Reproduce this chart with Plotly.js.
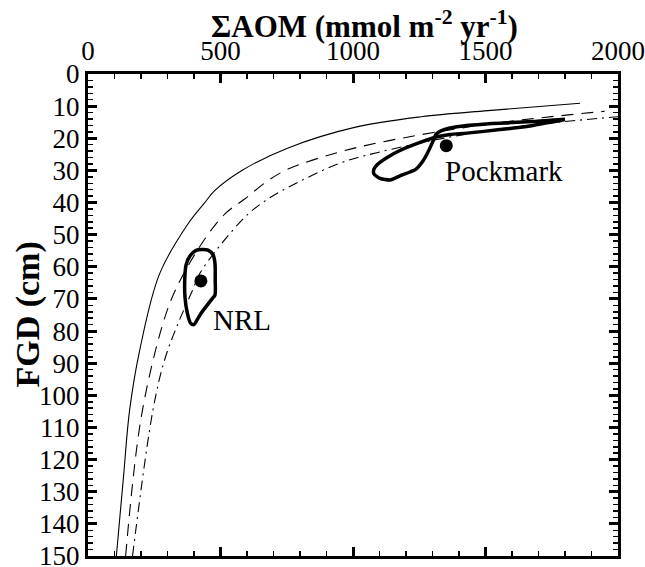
<!DOCTYPE html>
<html>
<head>
<meta charset="utf-8">
<script src="https://cdn.plot.ly/plotly-3.0.1.min.js"></script>
<style>html,body{margin:0;padding:0;background:#fff;}#chart{width:645px;height:567px;}</style>
</head>
<body>
<div id="chart"></div>
<script>
// Curves (ΣAOM vs FGD)
const solidX = [107, 134, 157, 195, 270, 377, 440, 478, 579, 755, 1006, 1258, 1509, 1857];
const solidY = [150, 125.3, 104.6, 86, 62.2, 46.7, 40.1, 36.3, 30.1, 23, 16.6, 13.3, 11.4, 9.1];

const dashX = [142, 201, 283, 333, 428, 516, 591, 679, 755, 943, 1132, 1509, 1950];
const dashY = [150, 106.7, 77.6, 66.7, 52.9, 43.6, 38.9, 33.2, 29.6, 24.4, 20.8, 15.6, 11.6];

const dashDotX = [168, 245, 289, 340, 395, 421, 503, 604, 679, 755, 943, 1094, 1509, 2000];
const dashDotY = [150, 104.6, 89, 77.6, 67.2, 62.2, 52.9, 43.6, 38.9, 35.3, 28, 24.4, 17.6, 13.3];

// Contours
const nrlContourX = [429, 453, 472, 479, 480, 479, 468, 430, 411, 400, 387, 374, 366, 365, 370, 385, 408, 429];
const nrlContourY = [54.6, 54.8, 56.3, 58.8, 64.1, 68.8, 70, 74.1, 76.6, 78, 77.5, 74.1, 69.4, 64.1, 59.4, 56.6, 54.9, 54.6];

const pockContourX = [1800, 1679, 1555, 1491, 1429, 1366, 1332, 1313, 1302, 1283, 1264, 1238, 1215, 1177, 1140, 1102, 1079, 1079, 1094, 1132, 1177, 1253, 1313, 1366, 1430, 1555, 1679, 1800];
const pockContourY = [14.1, 14.8, 15.3, 15.6, 16.0, 16.8, 17.7, 18.8, 20.9, 24.3, 27.1, 29.6, 30.5, 31.7, 33.0, 32.5, 31.1, 29.6, 28.0, 25.8, 23.8, 21.3, 19.6, 18.8, 18.4, 17.3, 16.0, 14.2];

// Site points
const siteNames = ["NRL", "Pockmark"];
const siteX = [426, 1352];
const siteY = [64.4, 22.3];
const labelX = [581, 1570];
const labelY = [76.6, 30.2];

// Axis settings
const xRange = [0, 2000];
const yRange = [150, 0];
const xTitle = "ΣAOM (mmol m<sup>-2</sup> yr<sup>-1</sup>)";
const yTitle = "FGD (cm)";

const FONT = "Liberation Serif, Times New Roman, serif";

const traces = [
  {x: solidX, y: solidY, mode: "lines", line: {color: "#000", width: 1.1, shape: "spline", smoothing: 1}, hoverinfo: "skip"},
  {x: dashX, y: dashY, mode: "lines", line: {color: "#000", width: 1.1, shape: "spline", smoothing: 1, dash: "12px,8px"}, hoverinfo: "skip"},
  {x: dashDotX, y: dashDotY, mode: "lines", line: {color: "#000", width: 1.1, shape: "spline", smoothing: 1, dash: "10px,5px,2px,5px"}, hoverinfo: "skip"},
  {x: nrlContourX, y: nrlContourY, mode: "lines", line: {color: "#000", width: 3.5, shape: "spline", smoothing: 0.8}, hoverinfo: "skip"},
  {x: pockContourX, y: pockContourY, mode: "lines", line: {color: "#000", width: 3.5, shape: "spline", smoothing: 0.6}, hoverinfo: "skip"},
  {x: siteX, y: siteY, mode: "markers", marker: {color: "#000", size: 13}, hoverinfo: "skip"},
  {x: [null], y: [null], xaxis: "x2", yaxis: "y2", mode: "markers", hoverinfo: "skip", showlegend: false}
];

const annotations = siteNames.map((n, i) => ({
  x: labelX[i], y: labelY[i], xref: "x", yref: "y", text: n, showarrow: false,
  font: {family: FONT, size: 29, color: "#000"}
}));
annotations.push({
  xref: "paper", yref: "paper", x: 0.5226, y: 1.1025, xanchor: "center", yanchor: "middle",
  text: xTitle, showarrow: false, font: {family: FONT, size: 31, color: "#000", weight: "bold"}
});
annotations.push({
  xref: "paper", yref: "paper", x: -0.114, y: 0.5, xanchor: "center", yanchor: "middle", textangle: -90,
  text: yTitle, showarrow: false, font: {family: FONT, size: 34, color: "#000", weight: "bold"}
});

const majorTick = {ticks: "inside", ticklen: 9, tickwidth: 3, tickcolor: "#000"};
const lineStyle = {showline: true, linewidth: 3, linecolor: "#000", showgrid: false, zeroline: false};

const layout = {
  width: 645, height: 567,
  margin: {l: 88, r: 27, t: 74, b: 11},
  paper_bgcolor: "#fff", plot_bgcolor: "#fff",
  showlegend: false,
  font: {family: FONT, color: "#000"},
  xaxis: Object.assign({
    side: "top", range: xRange, dtick: 500, tick0: 0, mirror: true, ticklabeloverflow: "allow",
    tickfont: {family: FONT, size: 27, color: "#000"},
    minor: {dtick: 100, ticks: "inside", ticklen: 5, tickwidth: 1.5, tickcolor: "#000", showgrid: false}
  }, majorTick, lineStyle),
  yaxis: Object.assign({
    range: yRange, dtick: 10, tick0: 0, mirror: true, ticklabeloverflow: "allow",
    tickfont: {family: FONT, size: 27, color: "#000"},
    minor: {dtick: 2, ticks: "inside", ticklen: 5, tickwidth: 1.5, tickcolor: "#000", showgrid: false}
  }, majorTick, lineStyle),
  xaxis2: Object.assign({
    overlaying: "x", side: "bottom", anchor: "y2", range: xRange, dtick: 500, tick0: 0, showticklabels: false,
    minor: {dtick: 100, ticks: "inside", ticklen: 5, tickwidth: 1.5, tickcolor: "#000", showgrid: false}
  }, majorTick, lineStyle),
  yaxis2: Object.assign({
    overlaying: "y", side: "right", anchor: "x2", range: yRange, dtick: 10, tick0: 0, showticklabels: false,
    minor: {dtick: 2, ticks: "inside", ticklen: 5, tickwidth: 1.5, tickcolor: "#000", showgrid: false}
  }, majorTick, lineStyle),
  annotations: annotations
};

Plotly.newPlot("chart", traces, layout, {staticPlot: true, displayModeBar: false});
</script>
</body>
</html>
